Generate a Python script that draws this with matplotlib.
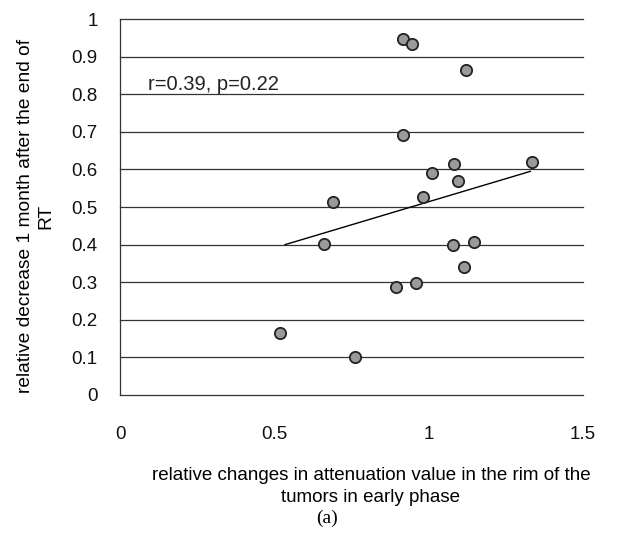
import matplotlib
matplotlib.use("Agg")
import matplotlib.pyplot as plt

# relative change in rim attenuation vs relative decrease after RT
rim_change = [0.916, 0.945, 1.120, 0.918, 1.336, 1.082, 1.010, 1.096, 0.981,
              0.691, 0.662, 1.078, 1.148, 1.115, 0.894, 0.958, 0.518, 0.763]
rel_decrease = [0.946, 0.935, 0.866, 0.691, 0.619, 0.614, 0.590, 0.570, 0.526,
                0.514, 0.402, 0.399, 0.408, 0.340, 0.286, 0.299, 0.166, 0.100]

# linear trend line as drawn in the original
trend_x = [0.535, 1.33]
trend_y = [0.400, 0.595]

x_ticks = [0, 0.5, 1, 1.5]
x_tick_labels = ["0", "0.5", "1", "1.5"]
y_ticks = [0, 0.1, 0.2, 0.3, 0.4, 0.5, 0.6, 0.7, 0.8, 0.9, 1]
y_tick_labels = ["0", "0.1", "0.2", "0.3", "0.4", "0.5", "0.6", "0.7", "0.8", "0.9", "1"]

plt.rcParams['font.family'] = ['Liberation Sans', 'DejaVu Sans']

fig = plt.figure(figsize=(6.32, 5.33), dpi=100)
ax = fig.add_axes([0.190, 0.259, 0.732, 0.705])

for y in y_ticks:
    ax.axhline(y, color='#333333', lw=0.9, zorder=1, clip_on=False)

ax.plot(trend_x, trend_y, color='black', lw=1.0, zorder=2)
ax.scatter(rim_change, rel_decrease, s=66, facecolor='#9a9a9a',
           edgecolor='#222222', linewidth=1.3, zorder=3)

ax.text(0.09, 0.826, "r=0.39, p=0.22", fontsize=14.5, color='#222222',
        va='center', ha='left')

ax.set_xlim(0, 1.5)
ax.set_ylim(0, 1)
ax.set_xticks(x_ticks)
ax.set_xticklabels(x_tick_labels)
ax.set_yticks(y_ticks)
ax.set_yticklabels(y_tick_labels)
ax.tick_params(axis='both', length=0, labelsize=13.5, colors='#111111')
ax.tick_params(axis='x', pad=22)
ax.tick_params(axis='y', pad=16)

for side in ['top', 'right', 'bottom']:
    ax.spines[side].set_visible(False)
ax.spines['left'].set_color('#333333')
ax.spines['left'].set_linewidth(0.9)

ax.set_ylabel("relative decrease 1 month after the end of\nRT", fontsize=13.8,
              linespacing=1.2)
ax.yaxis.set_label_coords(-0.143, 0.476)
ax.set_xlabel("relative changes in attenuation value in the rim of the\ntumors in early phase",
              fontsize=13.5, linespacing=1.35)
ax.xaxis.set_label_coords(0.542, -0.193)

fig.text(0.517, 0.018, "(a)", fontsize=14, family='Liberation Serif', ha='center')

fig.savefig("out.png", dpi=100)
plt.close(fig)
